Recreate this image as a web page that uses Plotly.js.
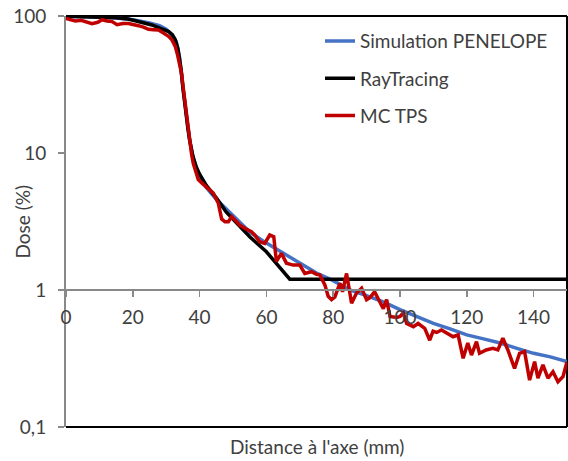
<!DOCTYPE html>
<html>
<head>
<meta charset="utf-8">
<script src="https://cdn.plot.ly/plotly-3.0.1.min.js"></script>
<style>
html,body{margin:0;padding:0;background:#fff;}
#chart{width:568px;height:461px;}
</style>
</head>
<body>
<div id="chart"></div>
<script>
// Series: Simulation PENELOPE
const penelopeX = [0, 5, 10, 15, 20, 25, 28, 30, 32, 33, 34, 35, 36, 37, 38, 39, 40, 42, 45, 50, 55, 60, 65, 70, 75, 80, 85, 90, 95, 100, 105, 110, 115, 120, 125, 130, 135, 140, 145, 150];
const penelopeDose = [99.5, 99, 98, 96.5, 94, 89, 85, 80, 72, 65, 50, 30, 18.5, 12.5, 9.2, 7.7, 6.7, 5.6, 4.6, 3.5, 2.65, 2.2, 1.87, 1.58, 1.33, 1.17, 1.0, 0.91, 0.82, 0.72, 0.64, 0.57, 0.52, 0.47, 0.44, 0.41, 0.375, 0.345, 0.325, 0.30];

// Series: RayTracing
const rayX = [0, 5, 10, 15, 18.7, 22, 25.7, 28.5, 30.7, 31.8, 32.7, 33.5, 34, 34.5, 35, 35.5, 36, 36.5, 37, 38, 39, 40, 42, 45, 48, 50, 55, 60, 63, 67, 80, 100, 120, 150];
const rayDose = [99.5, 99, 98.5, 97, 95, 91, 86, 81, 77, 73, 67, 58, 50, 40, 30, 23, 18, 15, 12.5, 9.5, 7.9, 7, 5.8, 4.7, 3.7, 3.3, 2.45, 1.9, 1.57, 1.2, 1.2, 1.2, 1.2, 1.2];

// Series: MC TPS
const mcX = [0, 1.5, 2.8, 4.5, 6, 7.8, 9.5, 10.8, 12.3, 13.8, 15.3, 17, 18.7, 20.2, 21.7, 23.2, 24.7, 26.2, 27.7, 29.2, 30.7, 31.7, 32.7, 33.4, 34, 34.6, 35.1, 35.6, 36.1, 36.6, 37.1, 37.6, 38.1, 38.8, 39.6, 40.8, 42.1, 43.2, 44.1, 45.6, 46.6, 47.6, 48.6, 49.6, 50.8, 52, 53.8, 55.5, 56.5, 58, 59.5, 61, 62.2, 63, 64.5, 66, 68, 70, 71.5, 73.5, 75, 76, 77.5, 78.5, 79.5, 80.5, 82, 82.8, 84, 85.5, 87, 88.5, 90, 91, 92.4, 94, 95, 96, 97, 99, 100, 101, 102, 104, 105.4, 107.4, 108.9, 109.9, 111, 112.4, 114.4, 115.9, 117.4, 118.9, 120.3, 121.4, 122.9, 123.8, 125.8, 127.8, 129.3, 130.8, 132.3, 134.3, 135.8, 137.3, 138.8, 140.3, 141.3, 142.8, 144.3, 145.8, 147.3, 148.8, 150];
const mcDose = [96, 94, 92, 93, 91, 88, 90, 94, 92, 91, 86.5, 88, 88, 87, 85, 83, 80, 79.5, 79, 75, 71, 67, 60, 52, 45, 38, 30, 24, 18.4, 14.5, 11.8, 9.8, 8.4, 7.2, 6.4, 6.0, 5.6, 5.3, 5.1, 4.3, 3.3, 3.15, 3.15, 3.43, 3.2, 2.98, 2.8, 2.67, 2.52, 2.25, 2.19, 2.52, 2.45, 1.62, 1.85, 1.57, 1.52, 1.52, 1.32, 1.36, 1.3, 1.29, 1.09, 0.9, 0.85, 0.89, 1.12, 0.97, 1.32, 0.8, 0.95, 1.03, 0.85, 0.88, 0.97, 0.82, 0.73, 0.85, 0.64, 0.63, 0.64, 0.68, 0.57, 0.54, 0.57, 0.525, 0.43, 0.5, 0.49, 0.51, 0.48, 0.456, 0.47, 0.317, 0.41, 0.335, 0.42, 0.345, 0.365, 0.375, 0.365, 0.444, 0.365, 0.268, 0.345, 0.355, 0.22, 0.30, 0.227, 0.284, 0.227, 0.253, 0.214, 0.233, 0.30];

// Ticks and labels
const xTickVals = [0, 20, 40, 60, 80, 100, 120, 140];
const yTickVals = [0.1, 1, 10, 100];
const yTickText = ['0,1', '1', '10', '100'];
const seriesNames = ['Simulation PENELOPE', 'RayTracing', 'MC TPS'];
const xTitle = "Distance à l'axe (mm)";
const yTitle = 'Dose (%)';

const FONT = 'Lato, "Open Sans", sans-serif';
const FS = 19;
const TXT = '#404040';
const AXC = '#898989';

const traces = [
  {x: penelopeX, y: penelopeDose, name: seriesNames[0], legendgroup: 'a', mode: 'lines', line: {color: '#4472C4', width: 3.5}},
  {x: rayX, y: rayDose, name: seriesNames[1], legendgroup: 'b', mode: 'lines', line: {color: '#000000', width: 3.5}},
  {x: mcX, y: mcDose, name: seriesNames[2], legendgroup: 'c', mode: 'lines', line: {color: '#C00000', width: 3.5}}
];

const layout = {
  width: 568, height: 461,
  margin: {l: 66, r: 1, t: 16, b: 34, pad: 0},
  paper_bgcolor: '#ffffff', plot_bgcolor: '#ffffff',
  font: {family: FONT, size: FS, color: TXT},
  showlegend: true,
  legend: {x: 0.507, xanchor: 'left', y: 0.985, yanchor: 'top', bgcolor: 'rgba(0,0,0,0)', borderwidth: 0, tracegroupgap: 9.5, font: {family: FONT, size: FS, color: TXT}},
  xaxis: {
    range: [0, 150], anchor: 'free', position: 1/3,
    showline: true, linecolor: AXC, linewidth: 2,
    ticks: 'outside', ticklen: 6, tickwidth: 1.5, tickcolor: AXC,
    tickvals: xTickVals, showgrid: false, zeroline: false,
    ticklabelstandoff: 4,
    tickfont: {family: FONT, size: FS, color: TXT}
  },
  yaxis: {
    type: 'log', range: [-1, 2],
    showline: true, linecolor: AXC, linewidth: 2,
    ticks: 'outside', ticklen: 6, tickwidth: 1.5, tickcolor: AXC,
    tickvals: yTickVals, ticktext: yTickText, showgrid: false, zeroline: false,
    ticklabelstandoff: 8,
    tickfont: {family: FONT, size: FS, color: TXT}
  },
  shapes: [
    {type: 'line', xref: 'paper', yref: 'paper', x0: 0, x1: 1, y0: 1, y1: 1, line: {color: '#000', width: 2}, layer: 'below'},
    {type: 'line', xref: 'paper', yref: 'paper', x0: 1, x1: 1, y0: 0, y1: 1, line: {color: '#000', width: 2}, layer: 'below'},
    {type: 'line', xref: 'paper', yref: 'paper', x0: 0, x1: 1, y0: 0, y1: 0, line: {color: '#000', width: 2}, layer: 'below'}
  ],
  annotations: [
    {text: xTitle, xref: 'paper', yref: 'paper', x: 0.5, y: -0.0414, xanchor: 'center', yanchor: 'middle', yshift: -2, showarrow: false, font: {family: FONT, size: FS, color: TXT}},
    {text: yTitle, xref: 'paper', yref: 'paper', x: -0.0878, y: 0.5, xanchor: 'center', yanchor: 'middle', textangle: -90, showarrow: false, font: {family: FONT, size: FS, color: TXT}}
  ]
};

Plotly.newPlot('chart', traces, layout, {staticPlot: true, displayModeBar: false});
</script>
</body>
</html>
